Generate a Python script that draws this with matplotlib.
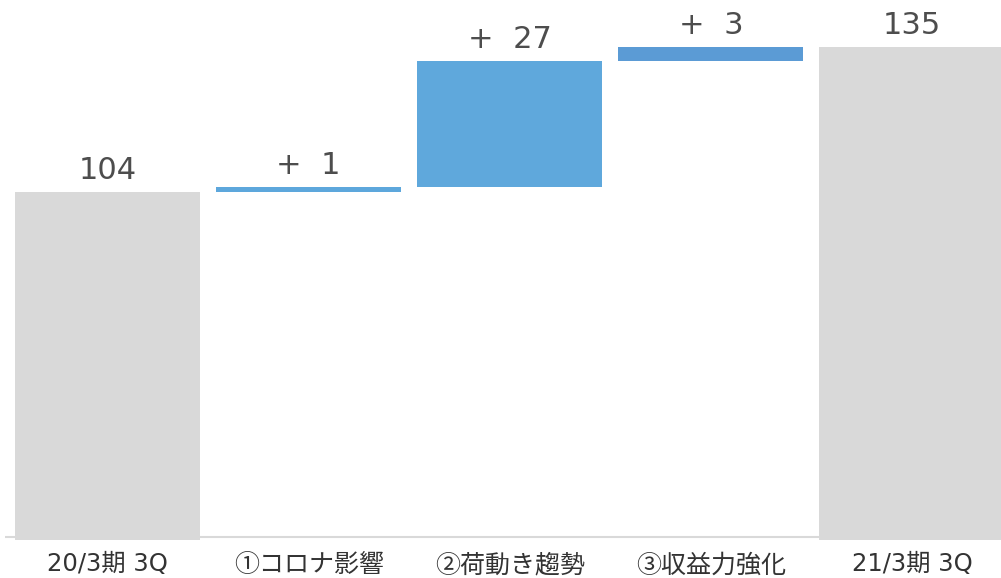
import numpy as np
import matplotlib.pyplot as plt

plt.rcParams['font.family'] = ['DejaVu Sans', 'Noto Sans CJK JP']

# データ
labels = ['20/3期 3Q', '①コロナ影響', '②荷動き趨勢', '③収益力強化', '21/3期 3Q']
start = 104
changes = [1, 27, 3]
end = 135

vals = [start] + changes + [end]
bottoms = [0]
run = start
for c in changes:
    bottoms.append(run)
    run += c
bottoms.append(0)

colors = ['#d9d9d9', '#5da7dc', '#5fa8dc', '#5b9bd5', '#d9d9d9']
texts = [str(start)] + ['+  %d' % c for c in changes] + [str(end)]

fig = plt.figure(figsize=(10.01, 5.78), dpi=100)
ax = fig.add_axes([0, 38 / 578, 1, 540 / 578])

x = np.arange(len(labels))
ax.bar(x, vals, bottom=bottoms, width=0.92, color=colors, zorder=2)
ax.hlines(30.15, -0.51, 4.4, color='#d9d9d9', lw=1.5, zorder=1)

for i in range(len(x)):
    ax.text(x[i], bottoms[i] + vals[i] + 1.4, texts[i], ha='center', va='bottom',
            fontsize=22, color='#4d4d4d')

ax.set_xlim(-0.535, 4.443)
ax.set_ylim(29.5, 145)
ax.set_xticks(x)
ax.set_xticklabels(labels, fontsize=17.5, color='#333333')
# 丸数字は全角フォントで
for t in ax.get_xticklabels()[1:4]:
    t.set_fontfamily(['Noto Sans CJK JP', 'DejaVu Sans'])
    t.set_fontsize(18)
ax.tick_params(axis='x', length=0, pad=9)
ax.set_yticks([])
for s in ax.spines.values():
    s.set_visible(False)

fig.savefig('out.png', dpi=100)
